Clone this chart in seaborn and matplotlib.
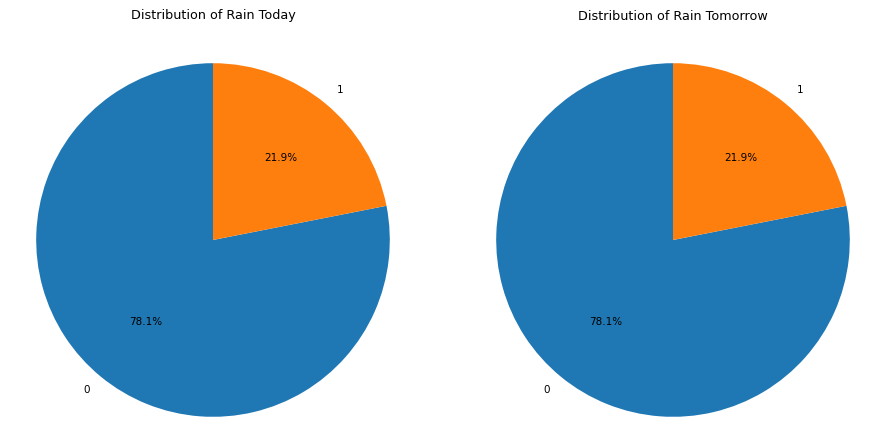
import matplotlib
matplotlib.use("Agg")
import matplotlib.pyplot as plt
import seaborn as sns

categories = ["0", "1"]
rain_today = [78.1, 21.9]
rain_tomorrow = [78.1, 21.9]
titles = ["Distribution of Rain Today", "Distribution of Rain Tomorrow"]

sns.set_theme(style="white")
plt.rcParams['font.family'] = ['DejaVu Sans']
plt.rcParams['text.color'] = 'black'
colors = sns.color_palette("tab10", 2)

W, H = 873, 429
fig = plt.figure(figsize=(W / 100, H / 100), dpi=100)
size = 442
for cx, vals, title in [(213, rain_today, titles[0]), (673, rain_tomorrow, titles[1])]:
    cy = H - 240
    ax = fig.add_axes([(cx - size / 2) / W, (cy - size / 2) / H, size / W, size / H])
    ax.pie(vals, labels=categories, autopct="%1.1f%%", startangle=90,
           colors=colors, textprops={"fontsize": 7.5, "color": "black"},
           wedgeprops={"linewidth": 0, "edgecolor": "none"})
    ax.set_xlim(-1.25, 1.25)
    ax.set_ylim(-1.25, 1.25)
    ax.set_title(title, fontsize=9.2, color="black",
                 y=((H - 16) - (cy - size / 2)) / size, pad=0, va="center")

fig.savefig("out.png", dpi=100)
